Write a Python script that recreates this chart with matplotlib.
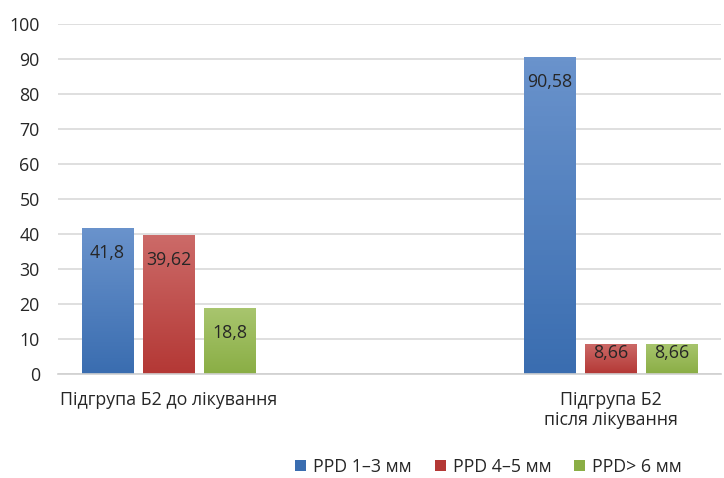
import numpy as np
import matplotlib
matplotlib.use('Agg')
import matplotlib.pyplot as plt
from matplotlib.patches import Patch

plt.rcParams['font.family'] = ['Open Sans', 'DejaVu Sans']

# Data (middle category is empty)
categories = ['Підгрупа Б2 до лікування', '', 'Підгрупа Б2\nпісля лікування']
series_names = ['PPD 1–3 мм', 'PPD 4–5 мм', 'PPD> 6 мм']
ppd_1_3 = [41.8, None, 90.58]
ppd_4_5 = [39.62, None, 8.66]
ppd_6 = [18.8, None, 8.66]
value_labels = [['41,8', None, '90,58'], ['39,62', None, '8,66'], ['18,8', None, '8,66']]

# Gradient colours (top, bottom) for each series
grads = [('#6a93cc', '#3a6db0'), ('#cc6a68', '#b43835'), ('#a8c56e', '#8aae45')]

fig = plt.figure(figsize=(7.24, 4.78), dpi=100)
ax = fig.add_axes([0.080, 0.2176, 0.916, 0.7324])

x = np.arange(len(categories))
width = 0.231
step = 0.277
series = [ppd_1_3, ppd_4_5, ppd_6]
fs = 12.8

def gradient_bar(ax, rect, top_col, bot_col):
    c1 = np.array(matplotlib.colors.to_rgb(top_col))
    c2 = np.array(matplotlib.colors.to_rgb(bot_col))
    t = np.linspace(0, 1, 64)[:, None]
    img = (c1 * (1 - t) + c2 * t)[:, None, :]
    x0, y0 = rect.get_x(), rect.get_y()
    w, h = rect.get_width(), rect.get_height()
    im = ax.imshow(img, extent=[x0, x0 + w, y0, y0 + h], origin='upper',
                   aspect='auto', zorder=2)
    im.set_clip_path(rect)

for i, vals in enumerate(series):
    xs = [xi + (i - 1) * step for xi, v in zip(x, vals) if v is not None]
    vs = [v for v in vals if v is not None]
    labs = [l for l in value_labels[i] if l is not None]
    bars = ax.bar(xs, vs, width, color='none', edgecolor='none', zorder=2)
    for b, v, lab in zip(bars, vs, labs):
        gradient_bar(ax, b, *grads[i])
        bar_px = v * 3.5
        off = min(25, bar_px - 21)
        ax.annotate(lab, (b.get_x() + b.get_width() / 2, v), xytext=(0, -off * 0.72),
                    textcoords='offset points', ha='center', va='center',
                    fontsize=fs, color='#262626', zorder=3)

ax.set_xlim(-0.5, 2.5)
ax.set_ylim(0, 100)
ax.set_yticks(np.arange(0, 101, 10))
ax.set_xticks([0, 2])
ax.set_xticklabels([categories[0], categories[2]], fontsize=fs, color='#262626',
                   va='top', linespacing=1.2)
ax.tick_params(axis='x', length=0, pad=12)
ax.tick_params(axis='y', length=0, pad=13, labelsize=fs, labelcolor='#262626')
for lbl in ax.get_yticklabels():
    lbl.set_horizontalalignment('right')
ax.yaxis.grid(True, color='#d9d9d9', linewidth=1.2, zorder=0)
ax.set_axisbelow(True)
for s in ['top', 'right', 'left']:
    ax.spines[s].set_visible(False)
ax.spines['bottom'].set_color('#d0d0d0')
ax.spines['bottom'].set_linewidth(1.2)

handles = [Patch(facecolor=g[1], edgecolor='none') for g in grads]
fig.legend(handles, series_names, loc='center', bbox_to_anchor=(0.675, 0.023),
           ncol=3, frameon=False, fontsize=fs, handlelength=0.6, handleheight=0.6,
           handletextpad=0.4, columnspacing=1.3, labelcolor='#262626')

fig.savefig('out.png', dpi=100)
